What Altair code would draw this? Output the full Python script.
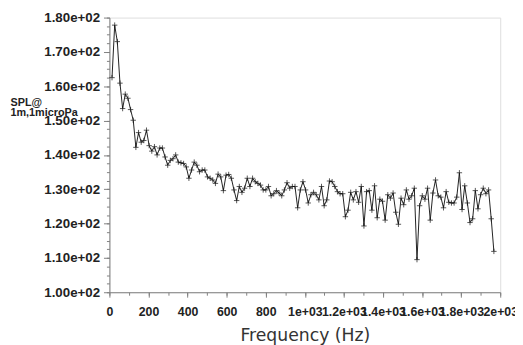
import altair as alt
import pandas as pd

# SPL values (dB re 1 microPa @ 1 m), in frequency order
spl = [
    162.5, 177.8, 173.0, 160.9, 153.5, 157.7, 156.5, 153.2, 150.1, 142.2,
    146.5, 143.7, 144.2, 147.2, 142.7, 141.1, 142.4, 140.0, 142.0, 142.0,
    139.4, 137.0, 138.4, 138.9, 140.0, 137.9, 137.7, 137.5, 136.5, 133.2,
    135.6, 137.9, 137.0, 135.1, 135.6, 135.6, 133.6, 133.2, 132.7, 131.7,
    134.4, 133.6, 129.6, 134.1, 134.3, 133.2, 129.8, 126.7, 130.8, 129.1,
    130.3, 133.2, 130.8, 133.2, 132.2, 131.7, 131.2, 129.8, 129.8, 130.8,
    128.1, 128.7, 129.6, 128.9, 128.1, 129.8, 131.9, 130.3, 130.8, 130.8,
    124.6, 129.8, 132.2, 129.8,
    126.0, 128.4, 129.1, 128.4, 126.9, 130.8, 125.2, 126.9, 132.4, 132.2,
    130.8, 129.3, 128.7, 128.7, 122.0, 123.9, 129.1, 126.9, 129.3, 126.2,
    130.8, 119.3, 129.3, 129.6, 123.9, 131.0, 121.7, 127.1, 126.5, 121.0,
    128.4, 127.4, 128.9, 123.3, 119.8, 127.4, 125.5, 129.8, 127.1, 128.1,
    130.3, 109.5, 125.2, 128.1, 127.1, 130.3, 121.0, 128.9, 132.7, 128.1,
    127.7, 124.6, 129.3, 126.2, 126.0, 126.0, 127.7, 134.8, 124.1, 131.0,
    126.0, 120.3, 121.4, 129.6, 124.3, 128.4, 130.3, 128.7, 129.8, 121.4,
    111.9,
]
first_freq = 13.4   # Hz, first bin
bin_step = 13.57    # Hz, bin spacing
freq = [round(first_freq + i * bin_step, 1) for i in range(len(spl))]

x_major = [0, 200, 400, 600, 800, 1000, 1200, 1400, 1600, 1800, 2000]
x_minor = list(range(0, 2001, 100))
y_major = [100, 110, 120, 130, 140, 150, 160, 170, 180]
y_minor = [100 + 2.5 * i for i in range(33)]

df = pd.DataFrame({"freq": freq, "spl": spl})

LFONT = "Liberation Sans"
XTFONT = "DejaVu Sans"
AXC = "#808080"
xscale = alt.Scale(domain=[0, 2000], nice=False, zero=False)
yscale = alt.Scale(domain=[100, 180], nice=False, zero=False)

base = alt.Chart(df)

minor = base.mark_point(opacity=0).encode(
    x=alt.X("freq:Q", scale=xscale,
            axis=alt.Axis(orient="bottom", values=x_minor, tickSize=3, labels=False,
                          domain=False, grid=False, title=None, tickColor=AXC)),
    y=alt.Y("spl:Q", scale=yscale,
            axis=alt.Axis(orient="left", values=y_minor, tickSize=3, labels=False,
                          domain=False, grid=False, title=None, tickColor=AXC)),
)

xaxis = alt.Axis(
    orient="bottom", values=x_major, tickSize=5, grid=False,
    domainColor=AXC, tickColor=AXC, labelOverlap=False, labelFlush=False,
    labelFont=LFONT, labelFontSize=12.5, labelFontWeight="bold", labelColor="#222222",
    labelPadding=9,
    labelExpr="datum.value < 1000 ? format(datum.value, 'd') : replace(format(datum.value, '~e'), 'e+', 'e+0')",
    title="Frequency (Hz)", titleFont=XTFONT, titleFontSize=17.5, titleFontWeight="normal",
    titleColor="#333333", titlePadding=9,
)
yaxis = alt.Axis(
    orient="left", values=y_major, tickSize=6, grid=False,
    domainColor=AXC, tickColor=AXC, labelOverlap=False, labelFlush=False,
    labelFont=LFONT, labelFontSize=13.5, labelFontWeight="bold", labelColor="#222222",
    labelPadding=4,
    labelExpr="replace(format(datum.value, '.2e'), 'e+', 'e+0')",
    title=["SPL@", "1m,1microPa"], titleAngle=0, titleAlign="left", titleBaseline="top",
    titleX=-101, titleY=80, titleFont=LFONT, titleFontSize=11, titleFontWeight="bold",
    titleColor="#222222", titleLineHeight=10,
)

line = base.mark_line(color="#222222", strokeWidth=1).encode(
    x=alt.X("freq:Q", scale=xscale, axis=xaxis),
    y=alt.Y("spl:Q", scale=yscale, axis=yaxis),
)
pts = base.mark_point(shape="M-1,0L1,0M0,-1L0,1", size=30, color="#111111",
                      strokeWidth=1, filled=False).encode(
    x=alt.X("freq:Q", scale=xscale, axis=xaxis),
    y=alt.Y("spl:Q", scale=yscale, axis=yaxis),
)

chart = (
    alt.layer(minor, line + pts)
    .resolve_axis(x="independent", y="independent")
    .properties(width=397, height=279,
                autosize=alt.AutoSizeParams(type="none"),
                padding={"left": 103, "top": 7, "right": 15, "bottom": 60})
    .configure_view(stroke=None)
    .configure(background="white")
)

chart.save("out.html", embed_options={"renderer": "svg", "actions": False})
